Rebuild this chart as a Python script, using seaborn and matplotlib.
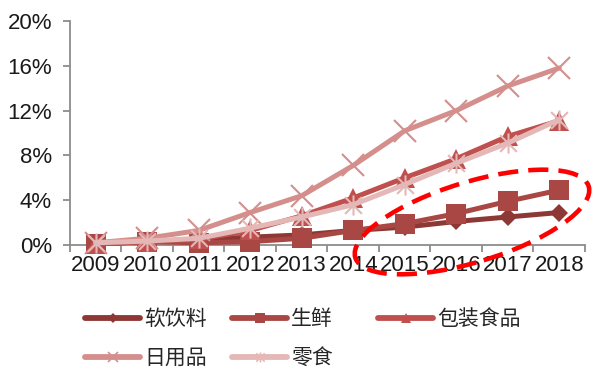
import matplotlib
matplotlib.use("Agg")
import matplotlib.pyplot as plt
from matplotlib.lines import Line2D
from matplotlib.patches import Ellipse
from matplotlib.path import Path
from matplotlib.ticker import FixedLocator, FuncFormatter
import seaborn as sns

# Online penetration by category, percent
years = [2009, 2010, 2011, 2012, 2013, 2014, 2015, 2016, 2017, 2018]
soft_drinks = [0.1, 0.3, 0.5, 0.7, 0.9, 1.3, 1.6, 2.1, 2.5, 2.9]
fresh = [0.1, 0.3, 0.2, 0.3, 0.6, 1.3, 1.9, 2.8, 3.9, 4.9]
packaged = [0.1, 0.3, 0.5, 1.3, 2.6, 4.2, 6.0, 7.7, 9.7, 11.1]
household = [0.2, 0.6, 1.3, 2.9, 4.4, 7.1, 10.2, 12.0, 14.2, 15.8]
snacks = [0.2, 0.35, 0.6, 1.5, 2.5, 3.6, 5.4, 7.3, 9.1, 11.2]
names = ["软饮料", "生鲜", "包装食品", "日用品", "零食"]
y_ticks = [0, 4, 8, 12, 16, 20]

sns.set_theme(style="white")
plt.rcParams["font.family"] = ["Liberation Sans", "Noto Sans CJK SC", "DejaVu Sans"]

# asterisk marker: an X with a vertical bar
star = Path(
    [(-0.5, -0.5), (0.5, 0.5), (-0.5, 0.5), (0.5, -0.5), (0, -0.6), (0, 0.6)],
    [Path.MOVETO, Path.LINETO, Path.MOVETO, Path.LINETO, Path.MOVETO, Path.LINETO],
)

series = [
    (soft_drinks, "#8E3836", dict(marker="D", markersize=9.5, mec="#8E3836", mfc="#8E3836", mew=0)),
    (fresh, "#A94744", dict(marker="s", markersize=13.8, mec="#A94744", mfc="#A94744", mew=0)),
    (packaged, "#C0504D", dict(marker="^", markersize=14.5, mec="#C0504D", mfc="#C0504D", mew=0)),
    (household, "#D48F8D", dict(marker="x", markersize=15.5, mec="#D48F8D", mew=1.5)),
    (snacks, "#E4B8B7", dict(marker=star, markersize=14.5, mec="#E4B8B7", mfc="none", mew=1.5)),
]

fig = plt.figure(figsize=(5.92, 3.68), dpi=100)
ax = fig.add_axes([70 / 592, 1 - 245 / 368, 515 / 592, 224 / 368])

for vals, col, mk in series:
    sns.lineplot(x=years, y=vals, ax=ax, color=col, lw=3.6, legend=False,
                 clip_on=False, **mk)

ax.set_xlim(years[0] - 0.5, years[-1] + 0.5)
ax.set_ylim(0, 20)
ax.set_xlabel("")
ax.set_ylabel("")

for s in ["top", "right"]:
    ax.spines[s].set_visible(False)
for s in ["left", "bottom"]:
    ax.spines[s].set_color("#8C8C8C")
    ax.spines[s].set_linewidth(1.3)
    ax.spines[s].set_zorder(0.5)

ax.yaxis.set_major_locator(FixedLocator(y_ticks))
ax.yaxis.set_major_formatter(FuncFormatter(lambda v, p: f"{v:.0f}%"))
ax.xaxis.set_major_locator(FixedLocator(years))
ax.xaxis.set_major_formatter(FuncFormatter(lambda v, p: f"{int(round(v))}"))
ax.xaxis.set_minor_locator(FixedLocator([y - 0.5 for y in years] + [years[-1] + 0.5]))

ax.tick_params(axis="y", which="major", direction="out", length=5, width=1.3,
               color="#8C8C8C", labelsize=16, pad=8, left=True, labelcolor="#1a1a1a")
ax.tick_params(axis="x", which="major", length=0, labelsize=16, pad=7, labelcolor="#1a1a1a")
ax.tick_params(axis="x", which="minor", direction="out", length=5, width=1.3,
               color="#8C8C8C", bottom=True)

# legend entries laid out on a fixed grid
legend_pos = [(85, 319), (232, 319), (378, 319), (85, 358), (232, 358)]
for (vals, col, mk), name, (px, py) in zip(series, names, legend_pos):
    small = dict(mk)
    small["markersize"] = mk["markersize"] * 0.5
    if small.get("mew", 0) > 0:
        small["mew"] = 1.2
    h = Line2D([], [], color=col, lw=4.2, solid_capstyle="round", **small)
    fig.legend(handles=[h], labels=[name], loc="center left",
               bbox_to_anchor=(px / 592, 1 - py / 368), frameon=False,
               borderpad=0, borderaxespad=0, handlelength=2.65, handletextpad=0.2,
               prop={"family": ["Noto Sans CJK SC"], "size": 15})

# highlight around the slower-growing categories
fig.add_artist(Ellipse((4.72, 3.68 - 2.22), 2.44, 0.80, angle=17,
                       transform=fig.dpi_scale_trans, fill=False, ec="#FF0000",
                       lw=3.3, ls=(0, (4.4, 2.2)), clip_on=False))

fig.savefig("out.png", dpi=100, facecolor="white")
